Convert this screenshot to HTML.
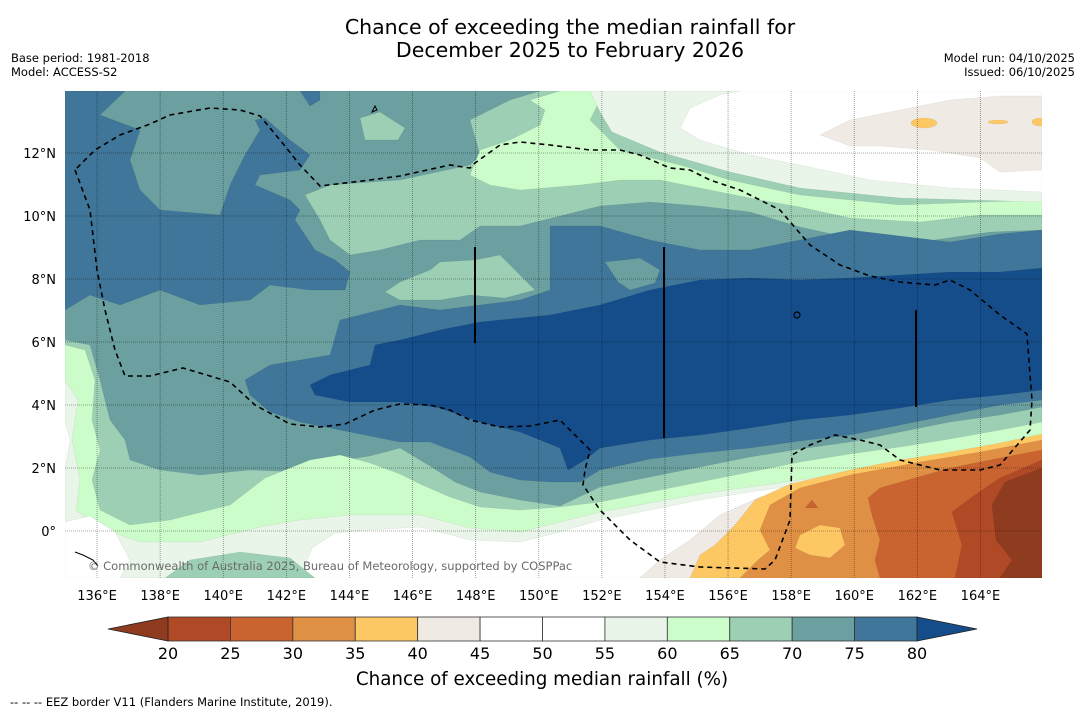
<!DOCTYPE html>
<html><head><meta charset="utf-8"><style>
html,body{margin:0;padding:0;background:#fff;}
svg{display:block;font-family:"DejaVu Sans","Liberation Sans",sans-serif;}
</style></head><body>
<svg id="fig" width="1085" height="713" viewBox="0 0 1085 713" xmlns="http://www.w3.org/2000/svg">
<rect width="1085" height="713" fill="#fff"/>
<text x="570" y="34" font-size="20.5" text-anchor="middle">Chance of exceeding the median rainfall for</text>
<text x="570" y="57" font-size="20.5" text-anchor="middle">December 2025 to February 2026</text>
<text x="11" y="62" font-size="11.5">Base period: 1981-2018</text>
<text x="11" y="76" font-size="11.5">Model: ACCESS-S2</text>
<text x="1075" y="62" font-size="11.5" text-anchor="end">Model run: 04/10/2025</text>
<text x="1075" y="76" font-size="11.5" text-anchor="end">Issued: 06/10/2025</text>

<defs><clipPath id="mapclip"><rect x="65" y="91" width="977" height="487"/></clipPath></defs>
<g clip-path="url(#mapclip)" stroke="rgba(0,0,0,0.08)" stroke-width="0.6">
<rect x="65" y="91" width="977" height="487" fill="#6b9fa0"/>
<polygon fill="#3f7699" points="65,91 125,91 100,115 140,130 130,160 140,190 160,210 220,215 230,185 245,155 260,130 255,120 265,118 290,140 310,155 300,170 260,175 255,185 290,200 300,210 295,220 315,250 335,260 350,272 345,290 310,290 270,285 250,300 200,305 160,290 120,305 90,295 65,310"/>
<polygon fill="#3f7699" points="300,91 320,91 320,100 310,106"/>
<polygon fill="#9ccfb4" points="305,195 330,185 400,180 470,165 480,155 470,120 510,100 540,91 1042,91 1042,230 990,232 920,242 850,238 800,227 750,212 700,206 650,202 600,206 560,216 520,226 480,226 460,240 420,240 380,250 350,255 330,240 320,220"/>
<polygon fill="#9ccfb4" points="360,118 380,112 405,128 398,140 365,140"/>
<polygon fill="#9ccfb4" points="385,292 400,282 430,270 440,262 475,260 500,255 520,275 535,290 505,298 470,295 440,300 400,300"/>
<polygon fill="#ccfcc9" points="470,175 480,150 510,140 540,125 545,110 530,100 560,91 610,91 600,100 590,120 620,150 680,165 730,180 800,195 850,200 900,205 1042,200 1042,215 980,215 920,222 850,218 800,207 760,200 700,188 660,180 620,180 580,185 520,190 490,185"/>
<polygon fill="#e8f5e8" points="590,91 1042,91 1042,202 900,198 800,188 730,172 660,152 612,132 600,112"/>
<polygon fill="#ffffff" points="690,108 720,95 740,91 1042,91 1042,192 950,188 870,180 800,165 750,155 700,140 680,128"/>
<polygon fill="#efebe4" points="820,135 850,120 900,110 950,100 1000,96 1042,96 1042,170 1000,172 980,158 930,150 880,146 850,146"/>
<ellipse cx="924" cy="123" rx="13" ry="5" fill="#fdc863"/>
<ellipse cx="998" cy="122" rx="10" ry="2" fill="#fdc863"/>
<ellipse cx="1040" cy="122" rx="8" ry="4" fill="#fdc863"/>
<polygon fill="#3f7699" points="245,380 270,365 330,355 340,320 380,310 400,305 440,310 480,305 520,300 550,290 550,226 600,226 650,240 700,250 750,250 800,240 850,230 900,236 950,242 1000,234 1042,230 1042,400 1000,405 950,415 900,425 850,435 800,441 750,448 700,453 650,459 600,470 580,482 550,482 520,480 490,472 470,457 430,442 400,442 350,432 300,422 270,412 250,395"/>
<polygon fill="#6b9fa0" points="605,262 640,258 660,270 655,283 630,290 618,282"/>
<polygon fill="#154d8a" points="310,385 330,375 370,365 375,345 400,340 440,330 480,322 550,315 600,305 650,290 700,280 750,278 800,280 850,278 900,275 950,272 1000,272 1042,268 1042,390 1000,395 950,400 900,408 850,415 800,420 750,428 700,435 650,440 600,448 585,460 568,470 560,448 520,432 480,422 440,408 400,402 350,402 315,395"/>
<polygon fill="#9ccfb4" points="65,340 90,345 100,380 110,420 125,440 130,460 160,470 200,475 250,470 300,472 330,462 370,456 400,448 430,466 455,482 480,492 520,500 560,506 600,487 650,477 700,467 750,457 800,449 850,442 900,432 950,422 1000,415 1042,407 1042,578 65,578"/>
<polygon fill="#ccfcc9" points="65,345 85,350 95,380 92,420 100,450 92,480 100,510 130,525 170,520 230,505 265,478 310,460 340,455 370,463 400,474 420,484 450,497 480,507 520,510 560,507 600,502 650,492 700,482 750,472 800,462 850,454 900,447 950,439 1000,430 1042,422 1042,578 65,578"/>
<polygon fill="#e8f5e8" points="65,380 78,400 72,440 80,480 76,510 100,528 140,542 200,542 260,527 300,520 350,515 420,515 470,528 520,532 560,522 600,512 650,503 700,494 750,487 800,480 850,472 900,462 950,454 1000,447 1042,440 1042,578 65,578"/>
<polygon fill="#ffffff" points="65,420 70,440 65,470"/>
<polygon fill="#ffffff" points="65,522 90,516 115,532 130,560 120,578 65,578"/>
<polygon fill="#ffffff" points="300,578 312,548 335,533 370,530 420,527 470,540 520,542 560,532 600,520 650,510 700,500 750,492 800,485 850,477 900,467 950,458 1000,450 1042,443 1042,578"/>
<polygon fill="#9ccfb4" points="165,578 190,560 240,552 290,558 315,578"/>
<polygon fill="#efebe4" points="640,578 660,560 690,540 720,515 760,497 800,488 850,475 900,464 950,455 1000,447 1042,438 1042,578"/>
<polygon fill="#fdc863" points="690,578 700,555 715,545 735,525 755,500 790,484 850,470 900,460 950,452 1000,443 1042,434 1042,578"/>
<polygon fill="#df9045" points="740,578 758,560 770,550 760,530 770,505 800,488 850,475 920,462 980,452 1042,440 1042,578"/>
<polygon fill="#fdc863" points="800,535 820,525 840,528 845,545 830,558 810,555 795,548"/>
<polygon fill="#c96330" points="880,578 875,560 880,540 872,515 868,498 880,488 950,468 1000,458 1042,450 1042,578"/>
<polygon fill="#c96330" points="805,508 812,500 818,508"/>
<polygon fill="#b04a26" points="955,578 962,545 952,512 975,495 1000,478 1042,460 1042,578"/>
<polygon fill="#8e3b1f" points="1042,468 1005,482 992,505 996,540 1012,560 1000,578 1042,578"/>
</g>

<g id="grid" stroke="rgba(0,0,0,0.45)" stroke-width="0.8" stroke-dasharray="1,1"></g>

<g stroke="#000" fill="none">
<line x1="475" y1="247" x2="475" y2="343" stroke-width="2"/>
<line x1="664" y1="247" x2="664" y2="438" stroke-width="2"/>
<line x1="916" y1="310" x2="916" y2="407" stroke-width="2"/>
<circle cx="797" cy="315" r="3" stroke-width="1.2"/>
<path d="M372,112 l3,-6 l2,4 z" stroke-width="1"/>
<path d="M75,552 l8,3 l10,5 l5,6" stroke-width="1"/>
<polyline fill="none" stroke-width="1.6" stroke-dasharray="5,4" points="75,170 90,210 97,270 105,310 115,350 125,376 150,376 183,368 230,382 255,405 290,424 320,427 345,424 375,410 400,404 430,405 450,410 470,420 500,427 530,426 560,420 575,435 590,450 585,470 583,485 600,510 630,540 660,562 700,567 765,569 775,560 790,520 792,455 810,445 835,435 860,440 880,445 900,460 940,470 980,470 1000,465 1030,430 1032,400 1030,375 1027,334 1000,315 970,290 950,280 935,285 900,282 870,276 840,265 810,245 780,210 740,190 710,180 690,170 670,168 640,155 620,150 590,150 550,145 520,142 500,145 475,163 470,168 450,165 400,176 370,180 320,186 300,165 280,140 260,116 240,110 210,108 170,115 150,124 120,135 95,150 75,170"/>
</g>
<text x="88" y="570" font-size="11.5" fill="#6a6a6a">© Commonwealth of Australia 2025, Bureau of Meteorology, supported by COSPPac</text>
<g id="ticks" font-size="13"></g>
<g id="cbar"></g>
<text x="542" y="685" font-size="18.3" text-anchor="middle">Chance of exceeding median rainfall (%)</text>
<text x="10" y="706" font-size="11.5">--  --  -- EEZ border V11 (Flanders Marine Institute, 2019).</text>
</svg>
<script>
const lonTicks = [136,138,140,142,144,146,148,150,152,154,156,158,160,162,164];
const latTicks = [0,2,4,6,8,10,12];
const cbLevels = [20,25,30,35,40,45,50,55,60,65,70,75,80];
const cbColors = ["#b04a26","#c96330","#df9045","#fdc863","#efebe4","#ffffff","#ffffff","#e8f5e8","#ccfcc9","#9ccfb4","#6b9fa0","#3f7699"];
const cbUnder = "#8e3b1f", cbOver = "#154d8a";
const NS = "http://www.w3.org/2000/svg";
const xLon = lon => 65.5 + (lon - 135) * 31.55;
const yLat = lat => 531 - lat * 31.5;
const grid = document.getElementById('grid'), ticks = document.getElementById('ticks'), cbar = document.getElementById('cbar');
function mk(tag, attrs, parent){const e=document.createElementNS(NS,tag);for(const k in attrs)e.setAttribute(k,attrs[k]);parent.appendChild(e);return e;}
lonTicks.forEach(l=>{
  const ln = mk('line',{x1:xLon(l),x2:xLon(l),y1:91,y2:578},grid);
  
  
  const t = mk('text',{x:xLon(l),y:600,'text-anchor':'middle'},ticks);
  t.textContent = l+'°E';
  
  
});
latTicks.forEach(l=>{
  const ln = mk('line',{x1:65,x2:1042,y1:yLat(l),y2:yLat(l)},grid);
  
  
  const t = mk('text',{x:56,y:yLat(l)+5,'text-anchor':'end'},ticks);
  t.textContent = l===0 ? '0°' : l+'°N';
  
  
});
const cx0 = 168, cx1 = 917, cy0 = 617, cy1 = 641;
const cw = (cx1-cx0)/(cbLevels.length-1);
cbColors.forEach((c,i)=>{
  const r = mk('rect',{x:cx0+i*cw,y:cy0,width:cw,height:cy1-cy0,fill:c,stroke:'#333','stroke-width':0.8},cbar);
  
  
});
const lt = mk('polygon',{points:`108,${(cy0+cy1)/2} ${cx0},${cy0} ${cx0},${cy1}`,fill:cbUnder,stroke:'#222','stroke-width':0.8},cbar);


const rt = mk('polygon',{points:`977,${(cy0+cy1)/2} ${cx1},${cy0} ${cx1},${cy1}`,fill:cbOver,stroke:'#222','stroke-width':0.8},cbar);


cbLevels.forEach((v,i)=>{
  const t = mk('text',{x:cx0+i*cw,y:659,'text-anchor':'middle','font-size':16},cbar);
  t.textContent = v;
  
  
});
</script>
</body></html>
